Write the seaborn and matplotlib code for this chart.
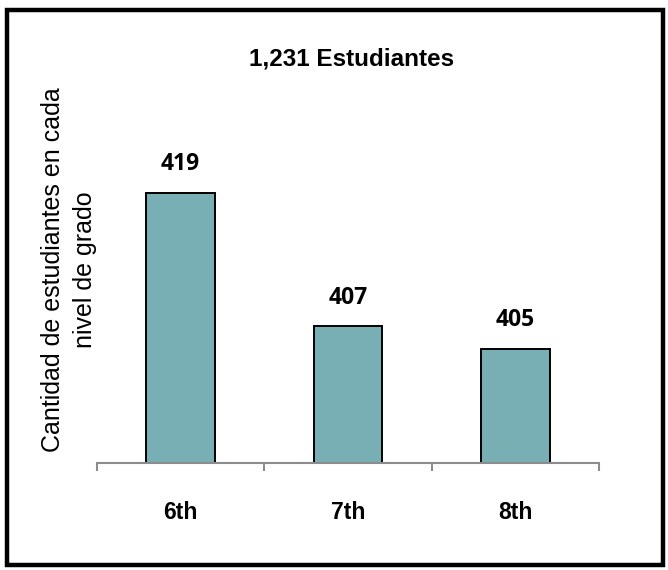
import matplotlib
matplotlib.use("Agg")
import matplotlib.pyplot as plt
import matplotlib.patches as mpatches
import seaborn as sns
import pandas as pd

# data
grades = ["6th", "7th", "8th"]
students = [419, 407, 405]
title = "1,231 Estudiantes"
ylabel = "Cantidad de estudiantes en cada\nnivel de grado"

df = pd.DataFrame({"grade": grades, "students": students})

sns.set_style("white")
plt.rcParams["font.family"] = ["Liberation Sans", "DejaVu Sans"]
plt.rcParams["text.color"] = "black"

fig = plt.figure(figsize=(6.68, 5.70), dpi=100)
ax = fig.add_axes([0.145, 0.1877, 0.752, 0.62])

sns.barplot(data=df, x="grade", y="students", color="#77afb5", saturation=1,
            width=0.41, edgecolor="black", linewidth=1.4, ax=ax)

ax.set_ylim(394.7, 426.5)
ax.set_xlim(-0.5, 2.5)
ax.set_yticks([])
ax.set_xlabel("")
ax.set_ylabel("")
for s in ["top", "right", "left"]:
    ax.spines[s].set_visible(False)
ax.spines["bottom"].set_color("#8c8c8c")
ax.spines["bottom"].set_linewidth(1.5)

ax.set_xticks([0, 1, 2])
ax.set_xticklabels(grades, fontweight="bold", fontsize=16.5, color="black")
ax.tick_params(axis="x", which="major", length=0, pad=27)
ax.set_xticks([-0.5, 0.5, 1.5, 2.5], minor=True)
ax.tick_params(axis="x", which="minor", length=6, width=1.5, color="#8c8c8c",
               direction="out", bottom=True)

for i, v in enumerate(students):
    ax.annotate(str(v), (i, v), xytext=(0, 12), textcoords="offset points",
                ha="center", va="bottom", fontfamily="Open Sans",
                fontweight="bold", fontsize=16.5, color="black")

# y label placed by hand (centred a bit above the axes middle)
fig.text(69 / 668, 1 - 270 / 570, ylabel, rotation=90, ha="center", va="center",
         fontsize=18, linespacing=1.45, color="black")

fig.text(0.527, 0.897, title, ha="center", va="center",
         fontweight="bold", fontsize=17.5, color="black")

frame = mpatches.Rectangle((0.010, 0.008), 0.982, 0.974, transform=fig.transFigure,
                           fill=False, edgecolor="black", linewidth=3.2)
fig.patches.append(frame)

fig.savefig("out.png", dpi=100)
